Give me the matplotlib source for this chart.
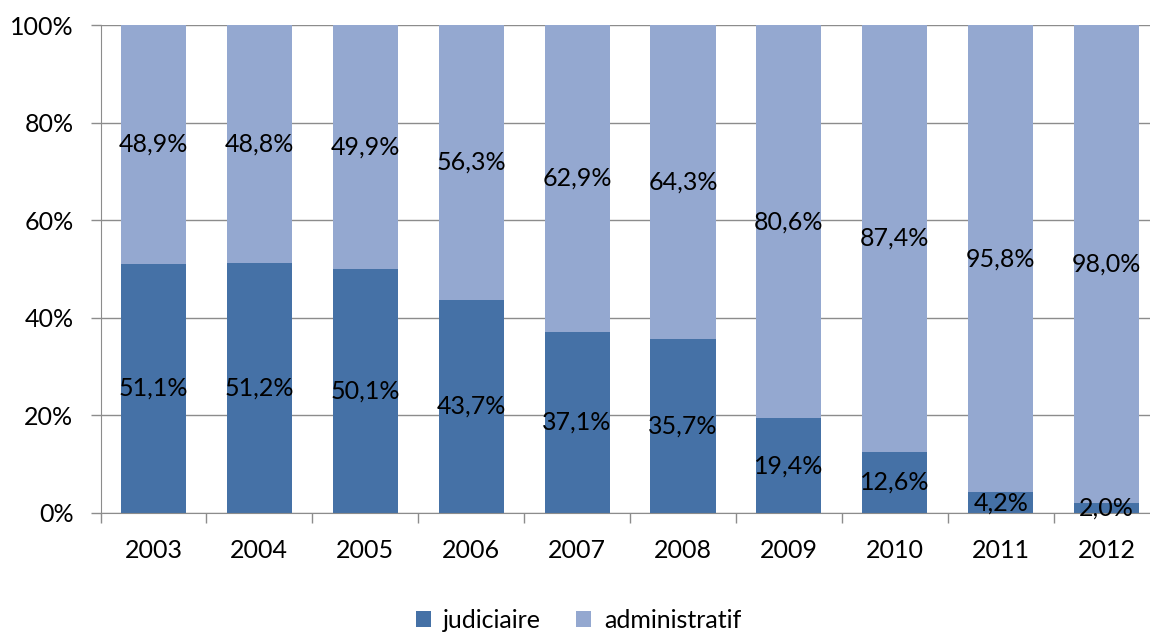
import numpy as np
import matplotlib.pyplot as plt
from matplotlib.ticker import FixedLocator, PercentFormatter

# données
years = ["2003", "2004", "2005", "2006", "2007", "2008", "2009", "2010", "2011", "2012"]
judiciaire = [51.1, 51.2, 50.1, 43.7, 37.1, 35.7, 19.4, 12.6, 4.2, 2.0]
administratif = [48.9, 48.8, 49.9, 56.3, 62.9, 64.3, 80.6, 87.4, 95.8, 98.0]

c_jud = "#4571A6"
c_adm = "#94A8D0"
grey = "#8C8C8C"

plt.rcParams["font.family"] = ["Lato", "DejaVu Sans"]

fig = plt.figure(figsize=(11.5, 6.32), dpi=100)
ax = fig.add_axes([0.0874, 0.1883, 0.9209, 0.7721])

x = np.arange(len(years))
w = 0.615
b1 = ax.bar(x, judiciaire, w, color=c_jud, label="judiciaire", zorder=2)
b2 = ax.bar(x, administratif, w, bottom=judiciaire, color=c_adm, label="administratif", zorder=2)

# étiquettes de valeurs
fs = 18
for xi, j, a in zip(x, judiciaire, administratif):
    ax.text(xi, j / 2, f"{j:.1f}%".replace(".", ","), ha="center", va="center", fontsize=fs, zorder=3)
    ax.text(xi, j + a / 2, f"{a:.1f}%".replace(".", ","), ha="center", va="center", fontsize=fs, zorder=3)

ax.set_xlim(-0.5, len(years) - 0.5)
ax.set_ylim(0, 100)
ax.yaxis.set_major_locator(FixedLocator([0, 20, 40, 60, 80, 100]))
ax.yaxis.set_major_formatter(PercentFormatter(decimals=0))
ax.grid(axis="y", color=grey, linewidth=1, zorder=0)

ax.set_xticks(x)
ax.set_xticklabels(years)
ax.set_xticks(np.arange(-0.5, len(years)), minor=True)
ax.tick_params(axis="x", which="major", length=0, pad=19, labelsize=fs)
ax.tick_params(axis="x", which="minor", length=7.5, color=grey, width=1)
ax.tick_params(axis="y", length=7.5, color=grey, width=1, labelsize=fs, pad=12)

for s in ["top", "right"]:
    ax.spines[s].set_visible(False)
ax.spines["left"].set_color(grey)
ax.spines["bottom"].set_color(grey)

fig.legend(handles=[b1, b2], loc="center", bbox_to_anchor=(0.503, 0.018), ncol=2, frameon=False,
           fontsize=fs, handlelength=0.6, handleheight=0.6, columnspacing=1.4, handletextpad=0.5)

fig.savefig("out.png", dpi=100)
